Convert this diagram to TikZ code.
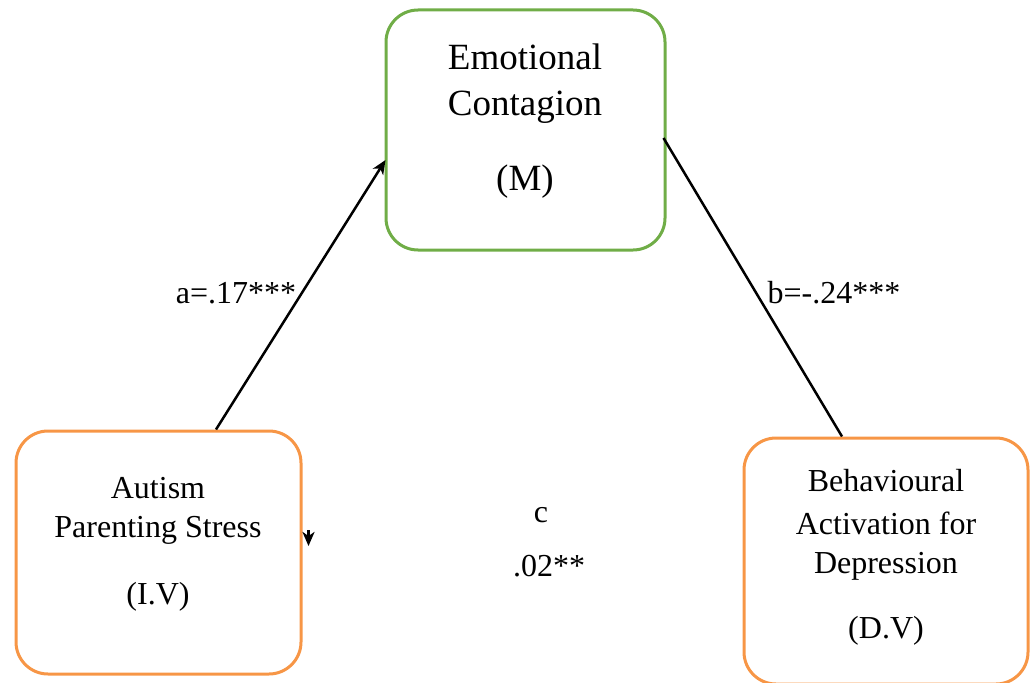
\documentclass[tikz,border=0pt]{standalone}
\usepackage{fontspec}
\setmainfont{Liberation Serif}
\usetikzlibrary{arrows.meta,calc}
\definecolor{mgreen}{HTML}{70AD47}
\definecolor{borange}{HTML}{F79646}
\begin{document}
\begin{tikzpicture}[x=1pt,y=-1pt,
  box/.style={draw,line width=3pt,rounded corners=32pt,inner sep=0pt},
  big/.style={font=\fontsize{37}{40}\selectfont,inner sep=0pt},
  txt/.style={font=\fontsize{32}{36}\selectfont,inner sep=0pt},
  conn/.style={line width=2.5pt},
  tip/.style={-{Stealth[length=14pt,width=12pt,inset=4pt]}}]
\path[use as bounding box] (0,0) rectangle (1032,682);
% boxes
\node[box,draw=mgreen,minimum width=279pt,minimum height=240pt] (m) at (525.5,130) {};
\node[box,draw=borange,minimum width=285pt,minimum height=243pt] (iv) at (158.5,552.5) {};
\node[box,draw=borange,minimum width=284pt,minimum height=246pt] (dv) at (886,561) {};
% box texts
\node[big] (m1) at (525,57) {Emotional};
\node[big] (m2) at (525,107) {Contagion};
\node[big] (m3) at (525,182) {(M)};
\node[txt] (i1) at (158,488) {Autism};
\node[txt] (i2) at (158,530) {Parenting Stress};
\node[txt] (i3) at (158,597) {(I.V)};
\node[txt] (d1) at (886,481) {Behavioural};
\node[txt] (d2) at (886,523) {Activation for};
\node[txt] (d3) at (886,566) {Depression};
\node[txt] (d4) at (886,631) {(D.V)};
% path labels
\node[txt] (la) at (236,293) {a=.17***};
\node[txt] (lb) at (834,293) {b=-.24***};
\node[txt] (lc) at (541,515) {c};
\node[txt] (lc2) at (549,566) {.02**};
% connector end points
\coordinate (a1) at ($(iv.north)+(57.5,0)$);
\coordinate (a2) at ($(m.west)+(1,30)$);
\coordinate (b1) at ($(m.east)+(-3,8)$);
\coordinate (b2) at ($(dv.north)+(-44,0)$);
\coordinate (s1) at (308.5,530);
\coordinate (s2) at (308.5,546);
\draw[conn,tip] (a1) -- (a2);
\draw[conn] (b1) -- (b2);
\draw[conn,tip] (s1) -- (s2);
\end{tikzpicture}
\end{document}
